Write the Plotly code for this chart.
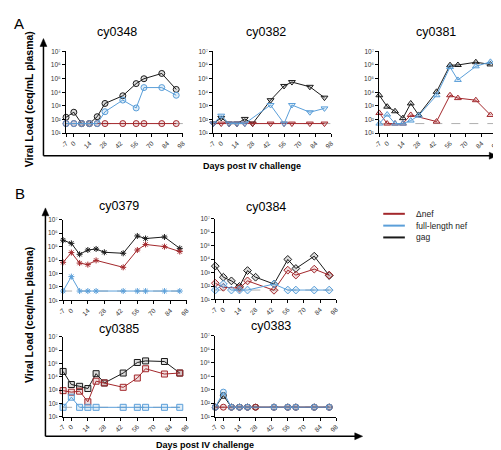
import plotly.graph_objects as go

# ---------------- data ----------------
days = [-7, 0, 7, 14, 21, 28, 44, 56, 63, 79, 92]
x_ticks = [-7, 0, 14, 28, 42, 56, 70, 84, 98]
y_tickvals = [1e1, 1e2, 1e3, 1e4, 1e5, 1e6, 1e7]
y_ticktext = ["10\u00b9", "10\u00b2", "10\u00b3", "10\u2074", "10\u2075", "10\u2076", "10\u2077"]
lod = 50

animals = ["cy0348", "cy0382", "cy0381", "cy0379", "cy0384", "cy0385", "cy0383"]
symbols = ["circle", "triangle-down", "triangle-up",
           "asterisk-open", "diamond", "square", "circle"]

cy0348_gag = [145, 340, 50, 50, 160, 1500, 5500, 43000, 98000, 240000, 16000]
cy0348_dnef = [50, 50, 50, 50, 50, 50, 50, 50, 50, 50, 50]
cy0348_fl = [50, 50, 50, 50, 50, 370, 2650, 700, 22000, 22000, 6000]

cy0382_gag = [50, 130, 50, 50, 110, 50, 2600, 29000, 56000, 25000, 4000]
cy0382_dnef = [50, 50, 50, 50, 50, 50, 50, 50, 50, 50, 50]
cy0382_fl = [50, 190, 50, 50, 50, None, 1150, 50, 1150, 340, 650]

cy0381_gag = [6000, 870, 400, 125, 1500, 215, 10700, 970000, 1000000, 1600000, 1100000]
cy0381_dnef = [300, 50, 50, 50, 215, None, 70, 6000, 3700, 2600, 215]
cy0381_fl = [50, 230, 50, 50, 83, 190, 6000, 700000, 80000, 800000, 1700000]

cy0379_gag = [300000, 175000, 27000, 56000, 67000, 38000, 32000, 620000, 400000, 520000, 74000]
cy0379_dnef = [6800, 36000, 6000, 4600, 9500, None, 2900, 56000, 145000, 100000, 43000]
cy0379_fl = [50, 590, 50, 50, 50, None, 50, 50, 50, 50, 50]

cy0384_gag = [3000, 450, 240, 93, 1400, 450, 140, 9500, 2000, 16500, 600]
cy0384_dnef = [160, 80, None, 70, 240, None, 48, 1500, 650, 1800, 650]
cy0384_fl = [50, 140, 50, 50, 50, None, 140, 50, 50, 50, 50]

cy0385_gag = [25000, 2600, 1900, 1300, 17000, 3400, 19000, 118000, 155000, 140000, 19000]
cy0385_dnef = [900, 690, 820, 130, 4600, 3400, 1600, 8000, 40000, 16000, 19000]
cy0385_fl = [50, 290, 50, 50, 50, None, 50, 50, 50, 50, 50]

cy0383_gag = [50, 370, 50, 50, 50, 50, 50, 50, 50, 50, 50]
cy0383_dnef = [50, 50, 50, 50, 50, 50, 50, 50, 50, 50, 50]
cy0383_fl = [50, 660, 50, 50, 50, None, 50, 50, 50, 50, 50]

series = {
    "cy0348": (cy0348_gag, cy0348_dnef, cy0348_fl),
    "cy0382": (cy0382_gag, cy0382_dnef, cy0382_fl),
    "cy0381": (cy0381_gag, cy0381_dnef, cy0381_fl),
    "cy0379": (cy0379_gag, cy0379_dnef, cy0379_fl),
    "cy0384": (cy0384_gag, cy0384_dnef, cy0384_fl),
    "cy0385": (cy0385_gag, cy0385_dnef, cy0385_fl),
    "cy0383": (cy0383_gag, cy0383_dnef, cy0383_fl),
}
legend_names = ["\u0394nef", "full-length nef", "gag"]

# ---------------- layout helpers ----------------
W, H = 501, 450
RED = "#a3282c"
BLUE = "#5b9fd9"
BLACK = "#1a1a1a"
FILLS = {RED: "rgba(163,40,44,0.15)", BLUE: "rgba(91,159,217,0.18)",
         BLACK: "rgba(26,26,26,0.15)"}
GREY = "#9a9a9a"
FONT = "Liberation Sans, Arial, sans-serif"

# pixel boxes: (x_left, x_right, y_top, y_bottom)
boxes = {
    "cy0348": (53, 172, 40, 123),
    "cy0382": (203, 323, 40, 123),
    "cy0381": (372, 492, 40, 123),
    "cy0379": (50, 176, 211, 293),
    "cy0384": (205, 328, 210, 292),
    "cy0385": (50, 176, 330, 411),
    "cy0383": (205, 328, 329, 411),
}
title_pos = {
    "cy0348": (105, 20), "cy0382": (257, 20), "cy0381": (430, 20),
    "cy0379": (107, 197), "cy0384": (257, 198),
    "cy0385": (107, 322), "cy0383": (262, 319),
}

def fx(px):
    return px / W

def fy(py):
    return 1 - py / H

fig = go.Figure()
layout = dict(
    width=W, height=H, margin=dict(l=0, r=0, t=0, b=0),
    paper_bgcolor="white", plot_bgcolor="white",
    font=dict(family=FONT, color="black"),
    showlegend=False,
)
annotations = []
shapes = []

for i, name in enumerate(animals):
    k = "" if i == 0 else str(i + 1)
    xa, ya = "x" + k, "y" + k
    x0, x1, y0, y1 = boxes[name]
    layout["xaxis" + k] = dict(
        domain=[fx(x0), fx(x1)], anchor=ya, range=[-7, 98],
        tickvals=x_ticks, ticktext=[str(v) for v in x_ticks], tickangle=-45,
        ticks="outside", ticklen=3, tickwidth=1, tickcolor="black",
        showline=True, linecolor="black", linewidth=1,
        showgrid=False, zeroline=False,
        tickfont=dict(size=6.5, family=FONT, color="#333"),
    )
    layout["yaxis" + k] = dict(
        domain=[fy(y1), fy(y0)], anchor=xa, type="log", range=[1, 7],
        tickvals=y_tickvals, ticktext=y_ticktext,
        ticks="outside", ticklen=3, tickwidth=1, tickcolor="black",
        showline=True, linecolor="black", linewidth=1,
        showgrid=False, zeroline=False,
        tickfont=dict(size=6.5, family=FONT, color="#333"),
    )
    # limit of detection
    fig.add_trace(go.Scatter(
        x=[x_ticks[0], x_ticks[-1]], y=[lod, lod], xaxis=xa, yaxis=ya,
        mode="lines", line=dict(color=GREY, width=0.8, dash="dash"),
        showlegend=False, hoverinfo="skip"))
    gag, dnef, fl = series[name]
    for vals, col in ((gag, BLACK), (dnef, RED), (fl, BLUE)):
        sym = symbols[i]
        fig.add_trace(go.Scatter(
            x=days, y=vals, xaxis=xa, yaxis=ya, mode="lines+markers",
            connectgaps=True, cliponaxis=False,
            line=dict(color=col, width=1),
            marker=dict(symbol=sym, size=5 if sym.startswith("asterisk") else 6,
                        color=col if sym.endswith("open") else FILLS[col],
                        line=dict(color=col, width=1)),
            showlegend=False))
    tx, ty = title_pos[name]
    annotations.append(dict(
        x=fx(tx), y=fy(ty), xref="paper", yref="paper", text=name,
        showarrow=False, font=dict(size=12.5, family=FONT, color="black"),
        xanchor="center", yanchor="middle"))

# custom legend (lines + labels)
legend_y = [205, 217, 229]
for nm, col, ly in zip(legend_names, (RED, BLUE, BLACK), legend_y):
    shapes.append(dict(type="line", xref="paper", yref="paper",
                       x0=fx(376), x1=fx(398), y0=fy(ly), y1=fy(ly),
                       line=dict(color=col, width=2)))
    annotations.append(dict(x=fx(407), y=fy(ly), xref="paper", yref="paper",
                            text=nm, showarrow=False,
                            font=dict(size=8.5, family=FONT, color="#222"),
                            xanchor="left", yanchor="middle"))

# panel letters
annotations.append(dict(x=fx(5), y=fy(12), xref="paper", yref="paper", text="A",
                        showarrow=False, font=dict(size=15, family=FONT),
                        xanchor="center", yanchor="middle"))
annotations.append(dict(x=fx(6), y=fy(184), xref="paper", yref="paper", text="B",
                        showarrow=False, font=dict(size=15, family=FONT),
                        xanchor="center", yanchor="middle"))

# axis titles
for (cx, cy) in ((15, 89), (15, 308)):
    annotations.append(dict(x=fx(cx), y=fy(cy), xref="paper", yref="paper",
                            text="<b>Viral Load (ceq/mL plasma)</b>", textangle=-90,
                            showarrow=False, font=dict(size=10.5, family=FONT),
                            xanchor="center", yanchor="middle"))
for (cx, cy) in ((242, 156), (195, 440)):
    annotations.append(dict(x=fx(cx), y=fy(cy), xref="paper", yref="paper",
                            text="<b>Days post IV challenge</b>",
                            showarrow=False, font=dict(size=9, family=FONT),
                            xanchor="center", yanchor="middle", borderpad=0))

# big frame arrows
def frame(xl, yt, yb, xr):
    shapes.append(dict(type="line", xref="paper", yref="paper",
                       x0=fx(xl), y0=fy(yb), x1=fx(xl), y1=fy(yt + 6),
                       line=dict(color="black", width=1.5)))
    shapes.append(dict(type="line", xref="paper", yref="paper",
                       x0=fx(xl), y0=fy(yb), x1=fx(xr - 6), y1=fy(yb),
                       line=dict(color="black", width=1.5)))
    shapes.append(dict(type="path", xref="paper", yref="paper",
                       path="M %f %f L %f %f L %f %f Z" % (
                           fx(xl - 3.5), fy(yt + 8), fx(xl), fy(yt), fx(xl + 3.5), fy(yt + 8)),
                       fillcolor="black", line=dict(color="black", width=0.5)))
    shapes.append(dict(type="path", xref="paper", yref="paper",
                       path="M %f %f L %f %f L %f %f Z" % (
                           fx(xr - 8), fy(yb - 3.5), fx(xr), fy(yb), fx(xr - 8), fy(yb + 3.5)),
                       fillcolor="black", line=dict(color="black", width=0.5)))

frame(30, 27, 146, 492)
frame(32, 199, 431, 355)

layout["annotations"] = annotations
layout["shapes"] = shapes
fig.update_layout(**layout)
fig.write_html("out.html")
